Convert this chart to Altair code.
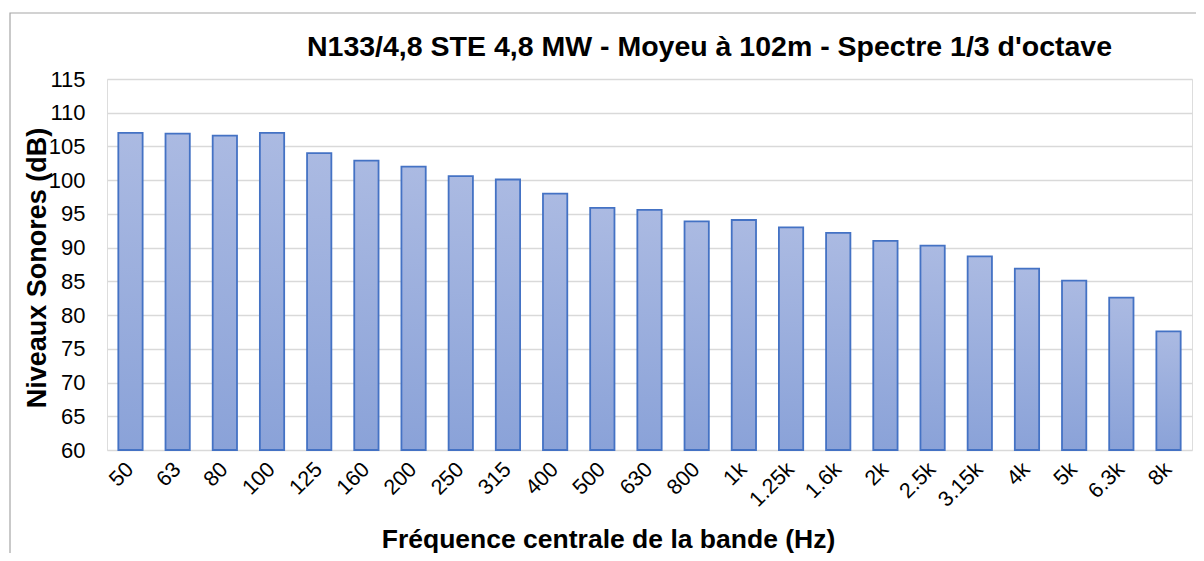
import altair as alt
import pandas as pd

bands = ["50", "63", "80", "100", "125", "160", "200", "250", "315", "400", "500",
         "630", "800", "1k", "1.25k", "1.6k", "2k", "2.5k", "3.15k", "4k", "5k", "6.3k", "8k"]
levels = [107.0, 106.9, 106.6, 107.0, 104.0, 102.9, 102.0, 100.6, 100.1, 98.0, 95.9,
          95.6, 93.9, 94.1, 93.0, 92.2, 91.0, 90.3, 88.7, 86.9, 85.1, 82.6, 77.6]
y_ticks = list(range(60, 120, 5))

df = pd.DataFrame({"band": bands, "level": levels})

FONT = "Liberation Sans"
W, H = 1085, 371

grad = alt.Gradient(
    gradient="linear",
    stops=[alt.GradientStop(color="#abbae2", offset=0),
           alt.GradientStop(color="#8aa2d8", offset=1)],
    x1=0, x2=0, y1=0, y2=1,
)

bars = alt.Chart(df).mark_bar(
    color=grad, stroke="#4472c4", strokeWidth=1.8
).encode(
    x=alt.X("band:N", sort=bands,
            scale=alt.Scale(paddingInner=0.485, paddingOuter=0.24),
            axis=alt.Axis(title="Fréquence centrale de la bande (Hz)",
                          labelAngle=-45, labelAlign="right", labelBaseline="middle",
                          labelFontSize=21.5, labelFont=FONT, labelColor="#000000",
                          labelPadding=16, ticks=False, domain=False, grid=False,
                          titleFont=FONT, titleFontSize=26.5, titleFontWeight="bold",
                          titleColor="#000000", titleX=501, titleY=97,
                          titleBaseline="alphabetic", titleAnchor="start", titleAlign="center")),
    y=alt.Y("level:Q",
            scale=alt.Scale(domain=[60, 115], nice=False, zero=False),
            axis=alt.Axis(title="Niveaux Sonores (dB)", values=y_ticks,
                          labelFontSize=22, labelFont=FONT, labelColor="#000000",
                          labelPadding=22, ticks=False, domain=False,
                          gridColor="#d9d9d9", gridWidth=1.5,
                          titleFont=FONT, titleFontSize=27, titleFontWeight="bold",
                          titleColor="#000000", titleX=-62, titleY=H / 2 + 3,
                          titleAngle=-90, titleAlign="center",
                          titleBaseline="alphabetic")),
    y2=alt.datum(60),
)

border = alt.Chart(alt.Data(values=[{}])).mark_rect(
    fill=None, fillOpacity=0, stroke="#a6a6a6", strokeWidth=1.2
).encode(
    x=alt.value(-97), x2=alt.value(1110), y=alt.value(-66), y2=alt.value(500)
)

chart = alt.layer(border, bars).properties(
    width=W, height=H,
    title=alt.TitleParams(
        "N133/4,8 STE 4,8 MW - Moyeu à 102m - Spectre 1/3 d'octave",
        font=FONT, fontSize=28.5, fontWeight="bold", color="#000000",
        anchor="middle", dx=60, offset=-49),
    autosize=alt.AutoSizeParams(type="none"),
    padding={"left": 99, "top": 71, "right": 4, "bottom": 103},
).configure_view(stroke=None).configure(background="white")

chart.save("out.html", embed_options={"renderer": "svg", "actions": False})
